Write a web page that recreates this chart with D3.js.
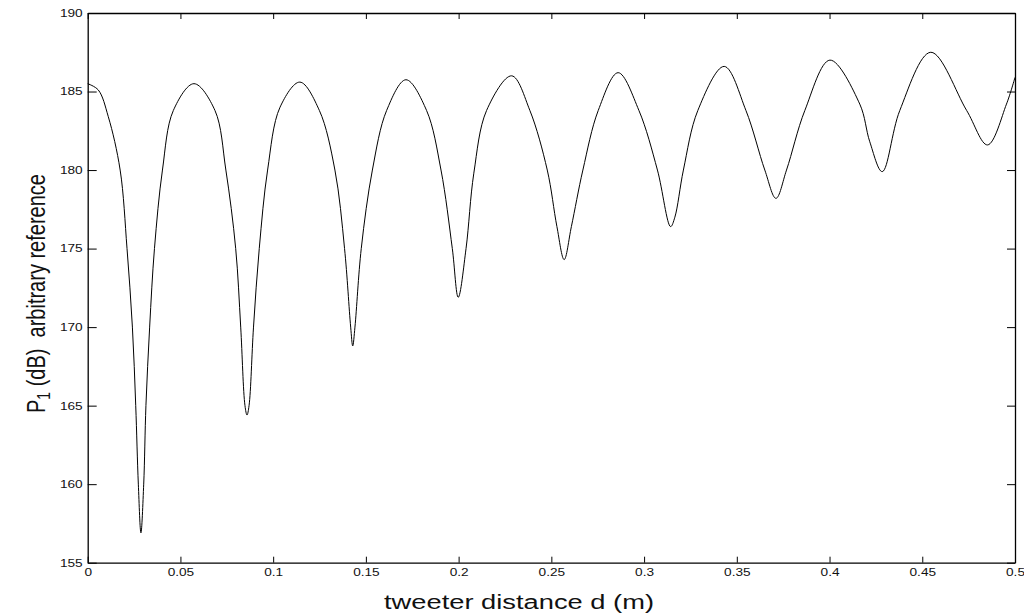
<!DOCTYPE html>
<html>
<head>
<meta charset="utf-8">
<script src="https://cdn.jsdelivr.net/npm/d3@7"></script>
<style>
  html, body { margin: 0; padding: 0; background: #fff; }
  text { font-family: "Liberation Sans", Arial, Helvetica, sans-serif; fill: #111; }
</style>
</head>
<body>
<div id="chart"></div>
<script>
// tweeter distance d (m) and level P1 (dB)
const distance = [
    0.0000, 0.0057, 0.0111, 0.0175, 0.0212, 0.0241, 0.0259, 0.0273, 0.0287, 0.0302,
    0.0314, 0.0334, 0.0360, 0.0403, 0.0462, 0.0573, 0.0686, 0.0745, 0.0798, 0.0825,
    0.0848, 0.0859, 0.0870, 0.0894, 0.0925, 0.0970, 0.1037, 0.1144, 0.1249, 0.1333,
    0.1385, 0.1418, 0.1429, 0.1441, 0.1475, 0.1535, 0.1612, 0.1716, 0.1827, 0.1905,
    0.1966, 0.1998, 0.2040, 0.2082, 0.2151, 0.2286, 0.2384, 0.2478, 0.2530, 0.2569,
    0.2608, 0.2670, 0.2753, 0.2860, 0.2972, 0.3072, 0.3143, 0.3166, 0.3212, 0.3290,
    0.3432, 0.3549, 0.3651, 0.3711, 0.3768, 0.3867, 0.4002, 0.4163, 0.4217, 0.4284,
    0.4379, 0.4546, 0.4739, 0.4852, 0.4954, 0.5000,
];
const level = [
    185.5, 185.1, 183.4, 180.0, 175.0, 170.0, 165.0, 160.0, 156.9, 160.0,
    165.0, 170.0, 175.0, 180.0, 183.8, 185.5, 183.8, 180.0, 175.0, 170.0,
    165.0, 164.4, 165.0, 170.0, 175.0, 180.0, 184.0, 185.6, 183.8, 180.0,
    175.0, 170.0, 168.8, 170.0, 175.0, 180.0, 183.8, 185.75, 183.8, 180.0,
    175.0, 171.9, 175.0, 179.8, 183.8, 186.0, 183.8, 180.0, 176.4, 174.3,
    176.4, 180.0, 183.8, 186.2, 183.8, 180.0, 176.4, 177.0, 180.0, 183.8,
    186.6, 183.8, 180.0, 178.2, 180.0, 183.8, 187.0, 184.2, 181.8, 179.9,
    183.8, 187.5, 183.8, 181.6, 184.2, 185.9,
];
const xTickValues = [0, 0.05, 0.1, 0.15, 0.2, 0.25, 0.3, 0.35, 0.4, 0.45, 0.5];
const xTickLabels = ['0', '0.05', '0.1', '0.15', '0.2', '0.25', '0.3', '0.35', '0.4', '0.45', '0.5'];
const yTickValues = [155, 160, 165, 170, 175, 180, 185, 190];

const width = 1024;
const height = 613;
const margin = { top: 13, right: 9, bottom: 50.3, left: 87.7 };
const innerW = width - margin.left - margin.right;
const innerH = height - margin.top - margin.bottom;
const stretch = 1.3; // the original text is drawn wide

const svg = d3.select('#chart')
    .append('svg')
    .attr('width', width)
    .attr('height', height);

const g = svg.append('g')
    .attr('transform', `translate(${margin.left},${margin.top})`);

const x = d3.scaleLinear().domain([0, 0.5]).range([0, innerW]);
const y = d3.scaleLinear().domain([155, 190]).range([innerH, 0]);

// axes, ticks pointing inward on all four sides
const bottomAxis = g.append('g')
    .attr('transform', `translate(0,${innerH})`)
    .call(d3.axisBottom(x).tickValues(xTickValues)
        .tickFormat((d, i) => xTickLabels[i])
        .tickSizeInner(-6).tickSizeOuter(0));
bottomAxis.selectAll('text')
    .attr('y', 13.6)
    .attr('dy', null)
    .attr('transform', `scale(${stretch},1)`)
    .style('font-size', '10.5px');

const leftAxis = g.append('g')
    .call(d3.axisLeft(y).tickValues(yTickValues)
        .tickSizeInner(-9).tickSizeOuter(0));
leftAxis.selectAll('text')
    .attr('x', -5 / stretch)
    .attr('transform', `scale(${stretch},1)`)
    .style('font-size', '10.5px');

g.append('g')
    .call(d3.axisTop(x).tickValues(xTickValues).tickFormat('')
        .tickSizeInner(-6).tickSizeOuter(0));
g.append('g')
    .attr('transform', `translate(${innerW},0)`)
    .call(d3.axisRight(y).tickValues(yTickValues).tickFormat('')
        .tickSizeInner(-8).tickSizeOuter(0));

g.selectAll('.domain').attr('stroke', '#000').attr('stroke-width', 1.3);
g.selectAll('.tick line').attr('stroke', '#000').attr('stroke-width', 1);

// the curve
const points = distance.map((d, i) => [d, level[i]]);
const line = d3.line()
    .x((d) => x(d[0]))
    .y((d) => y(d[1]))
    .curve(d3.curveCatmullRom.alpha(0.5));
g.append('path')
    .datum(points)
    .attr('fill', 'none')
    .attr('stroke', '#000')
    .attr('stroke-width', 1)
    .attr('d', line);

// labels
svg.append('text')
    .attr('transform', `translate(519,609) scale(${stretch},1)`)
    .attr('text-anchor', 'middle')
    .style('font-size', '21px')
    .text('tweeter distance d (m)');

const yLabel = svg.append('text')
    .attr('transform', `translate(45,413) scale(${stretch},1) rotate(-90)`)
    .attr('text-anchor', 'start')
    .style('font-size', '20px')
    .style('white-space', 'pre');
yLabel.append('tspan').text('P');
yLabel.append('tspan').attr('dy', 4).style('font-size', '14px').text('1');
yLabel.append('tspan').attr('dy', -4).text(' (dB)  arbitrary reference');
</script>
</body>
</html>
